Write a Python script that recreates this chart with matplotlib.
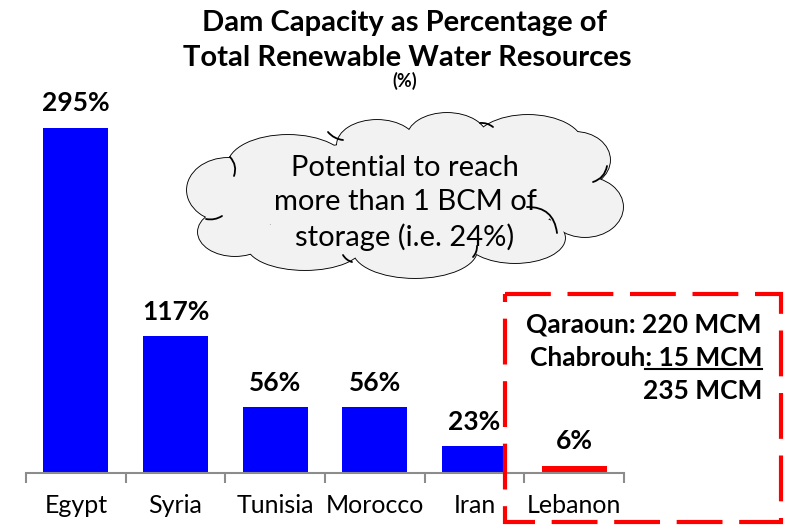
import matplotlib.pyplot as plt
from matplotlib.patches import Ellipse, Rectangle, FancyArrowPatch

plt.rcParams['font.family'] = ['Lato', 'DejaVu Sans']

paises = ['Egypt', 'Syria', 'Tunisia', 'Morocco', 'Iran', 'Lebanon']
valores = [295, 117, 56, 56, 23, 6]
colores = ['#0000FF', '#0000FF', '#0000FF', '#0000FF', '#0000FF', '#FF0000']
etiquetas = ['295%', '117%', '56%', '56%', '23%', '6%']

lineas_caja = ['Qaraoun: 220 MCM', 'Chabrouh: 15 MCM', '235 MCM']
texto_nube = 'Potential to reach\nmore than 1 BCM of\nstorage (i.e. 24%)'

W, H = 787, 527
fig = plt.figure(figsize=(W / 100, H / 100), dpi=100)

# ejes de las barras (en pixeles de la imagen)
x0, x1, yb, yt = 26, 624, 473, 100
ax = fig.add_axes([x0 / W, 1 - yb / H, (x1 - x0) / W, (yb - yt) / H])
x = list(range(len(paises)))
ax.bar(x, valores, width=0.65, color=colores, edgecolor='none', zorder=2)
ax.set_xlim(-0.5, len(paises) - 0.5)
ax.set_ylim(0, (yb - yt) / 1.17)
for xi, v, t in zip(x, valores, etiquetas):
    ax.annotate(t, (xi, v), xytext=(0, 9), textcoords='offset points',
                ha='center', va='bottom', fontsize=19, fontweight='bold')
for s in ['top', 'right', 'left']:
    ax.spines[s].set_visible(False)
ax.spines['bottom'].set_color('#8c8c8c')
ax.spines['bottom'].set_linewidth(1.5)
ax.set_yticks([])
ax.set_xticks([i - 0.5 for i in range(len(paises) + 1)], minor=False)
ax.set_xticklabels([])
ax.tick_params(axis='x', length=7, width=1.5, color='#8c8c8c')
ax.set_xticks(x, minor=True)
ax.set_xticklabels(paises, minor=True, fontsize=18)
ax.tick_params(axis='x', which='minor', length=0, pad=15)

# capa superpuesta en pixeles
ov = fig.add_axes([0, 0, 1, 1])
ov.set_xlim(0, W)
ov.set_ylim(H, 0)
ov.axis('off')

ov.text(405, 23, 'Dam Capacity as Percentage of', ha='center', va='center',
        fontsize=21, fontweight='bold')
ov.text(407, 58, 'Total Renewable Water Resources', ha='center', va='center',
        fontsize=21, fontweight='bold')
ov.text(405, 81, '(%)', ha='center', va='center', fontsize=13, fontweight='bold')

# nube
bultos = [(288, 165, 60, 30), (377, 145, 40, 25), (447, 138, 40, 25), (528, 145, 55, 30),
          (575, 160, 35, 28), (585, 207, 38, 30), (515, 238, 50, 25), (415, 250, 62, 28),
          (305, 245, 58, 25), (235, 232, 37, 24), (228, 190, 41, 32), (405, 195, 160, 55)]
for cx, cy, rx, ry in bultos:
    ov.add_patch(Ellipse((cx, cy), 2 * rx, 2 * ry, facecolor='#f2f2f2', edgecolor='black',
                         linewidth=1.3, zorder=3))
for cx, cy, rx, ry in bultos:
    ov.add_patch(Ellipse((cx, cy), 2 * rx, 2 * ry, facecolor='#f2f2f2', edgecolor='none',
                         zorder=4))
# pequenos ganchos interiores de la nube
ganchos = [((527, 207), (557, 233), -0.45), ((230, 157), (234, 176), -0.3),
           ((328, 132), (343, 140), 0.2), ((593, 182), (607, 166), 0.3),
           ((473, 257), (477, 246), 0.2), ((352, 262), (343, 255), -0.2),
           ((480, 123), (493, 127), -0.2), ((206, 219), (222, 216), 0.2)]
for a, b, rad in ganchos:
    ov.add_patch(FancyArrowPatch(a, b, arrowstyle='-', connectionstyle=f'arc3,rad={rad}',
                                 color='black', linewidth=1.3, zorder=4.5,
                                 shrinkA=0, shrinkB=0))
ov.text(405, 203, texto_nube, ha='center', va='center', fontsize=21, linespacing=1.37, zorder=5)

# caja roja
ov.add_patch(Rectangle((505, 294), 276, 228, facecolor='none', edgecolor='#FF0000',
                       linewidth=3, linestyle=(0, (11, 4)), zorder=6))
ys = [324, 358, 391]
for yy, t in zip(ys, lineas_caja):
    ov.text(762, yy, t, ha='right', va='center', fontsize=19, fontweight='bold', zorder=6)
fig.canvas.draw()
r = fig.canvas.get_renderer()
tmp = ov.text(762, ys[1], ': 15 MCM', ha='right', va='center', fontsize=19,
              fontweight='bold', alpha=0)
bb = tmp.get_window_extent(r).transformed(ov.transData.inverted())
ov.plot([min(bb.x0, bb.x1), 762], [369, 369], color='black', linewidth=1.5, zorder=6)

fig.savefig('out.png', dpi=100)
